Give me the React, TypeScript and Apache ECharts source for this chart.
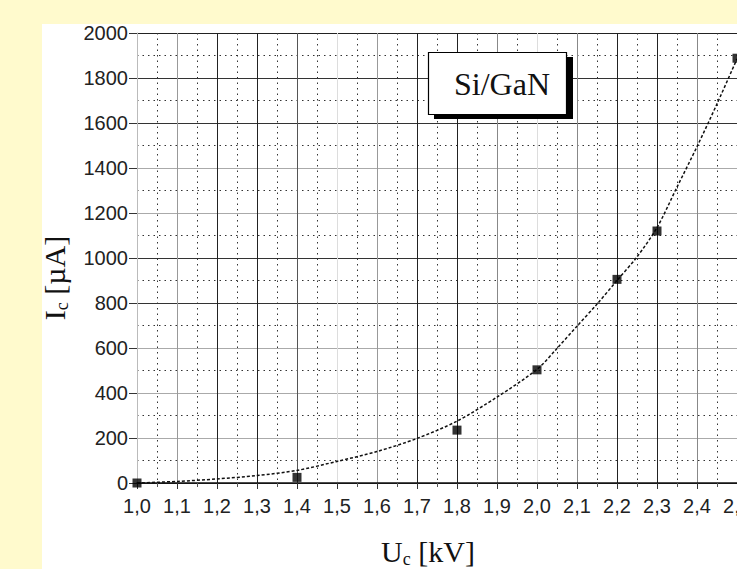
import React, { useEffect, useRef } from 'react';
import * as echarts from 'echarts';

// Tick labels
const xTickLabels = ['1,0', '1,1', '1,2', '1,3', '1,4', '1,5', '1,6', '1,7', '1,8', '1,9', '2,0', '2,1', '2,2', '2,3', '2,4', '2,5'];
const yTickLabels = ['0', '200', '400', '600', '800', '1000', '1200', '1400', '1600', '1800', '2000'];

// Measured points (U_c in kV, I_c in µA)
const measuredU = [1.0, 1.4, 1.8, 2.0, 2.2, 2.3, 2.5];
const measuredI = [0, 25, 235, 503, 905, 1120, 1888];

// Fitted curve
const fitU = [1.0, 1.1, 1.2, 1.3, 1.4, 1.5, 1.6, 1.7, 1.8, 1.9, 2.0, 2.05, 2.1, 2.15, 2.2, 2.25, 2.3, 2.35, 2.4, 2.45, 2.5];
const fitI = [0, 7, 18, 33, 56, 96, 140, 198, 275, 382, 505, 598, 697, 795, 900, 1005, 1135, 1315, 1495, 1685, 1885];

const serif = '"Liberation Serif", "Times New Roman", serif';
const sans = '"Liberation Sans", Arial, sans-serif';

export default function App() {
  const ref = useRef<HTMLDivElement>(null);

  useEffect(() => {
    if (!ref.current) return;
    const chart = echarts.init(ref.current, null, { renderer: 'svg' });

    const xSplitColors = ['#bbb', '#999', '#222', '#222', '#555', '#ddd', '#999', '#222', '#222', '#888', '#ddd', '#888', '#222', '#222', '#888', '#ccc'];
    const ySplitColors = ['#222', '#aaa', '#aaa', '#aaa', '#333', '#333', '#aaa', '#aaa', '#333', '#333', '#222'];

    chart.setOption({
      animation: false,
      backgroundColor: 'transparent',
      grid: {
        left: 137,
        right: 0,
        top: 33,
        bottom: 86,
        containLabel: false,
        outerBoundsMode: 'none',
      },
      xAxis: {
        type: 'value',
        min: 1.0,
        max: 2.5,
        interval: 0.1,
        axisLine: { show: true, onZero: false, lineStyle: { color: '#111', width: 1.5 } },
        axisTick: { show: true, length: 6, lineStyle: { color: '#333' } },
        minorTick: { show: true, splitNumber: 2, length: 4, lineStyle: { color: '#555' } },
        axisLabel: {
          margin: 13,
          fontSize: 20,
          color: '#222',
          fontFamily: sans,
          formatter: (v: number) => xTickLabels[Math.round((v - 1.0) * 10)] ?? '',
        },
        splitLine: { show: true, lineStyle: { color: xSplitColors, width: 1 } },
        minorSplitLine: { show: true, lineStyle: { color: '#333', width: 1, type: [1.5, 4] } },
      },
      yAxis: {
        type: 'value',
        min: 0,
        max: 2000,
        interval: 200,
        axisLine: { show: true, lineStyle: { color: '#bbb', width: 1 } },
        axisTick: { show: true, length: 8, lineStyle: { color: '#333' } },
        minorTick: { show: false, splitNumber: 2 },
        axisLabel: {
          margin: 9,
          fontSize: 20,
          color: '#222',
          fontFamily: sans,
          formatter: (v: number) => yTickLabels[Math.round(v / 200)] ?? '',
        },
        splitLine: { show: true, lineStyle: { color: ySplitColors, width: 1 } },
        minorSplitLine: { show: true, lineStyle: { color: '#333', width: 1, type: [1.5, 4] } },
      },
      series: [
        {
          type: 'line',
          data: fitU.map((u, i) => [u, fitI[i]]),
          smooth: 0.3,
          showSymbol: false,
          symbol: 'none',
          lineStyle: { color: '#111', width: 1.5, type: [3, 2] },
          z: 3,
        },
        {
          type: 'scatter',
          data: measuredU.map((u, i) => [u, measuredI[i]]),
          symbol: 'rect',
          symbolSize: 9,
          itemStyle: { color: '#000' },
          z: 4,
        },
      ],
      graphic: [
        {
          type: 'rect',
          shape: { x: 434, y: 57, width: 139, height: 62 },
          style: { fill: '#000' },
          z: 100,
        },
        {
          type: 'rect',
          shape: { x: 428.5, y: 52.5, width: 138, height: 62 },
          style: { fill: '#fff', stroke: '#000', lineWidth: 1.2 },
          z: 101,
        },
        {
          type: 'text',
          x: 502,
          y: 84,
          z: 102,
          style: {
            text: 'Si/GaN',
            fontSize: 32,
            fontFamily: serif,
            fill: '#111',
            align: 'center',
            verticalAlign: 'middle',
          },
        },
        {
          type: 'text',
          x: 428,
          y: 551,
          z: 102,
          style: {
            text: '{m|U}{s|c}{m| [kV]}',
            align: 'center',
            verticalAlign: 'middle',
            fill: '#111',
            rich: {
              m: { fontSize: 30, fontFamily: serif, fill: '#111' },
              s: { fontSize: 18, fontFamily: serif, fill: '#111', verticalAlign: 'bottom', padding: [0, 0, -2, 0] },
            },
          },
        },
        {
          type: 'text',
          x: 54,
          y: 278,
          rotation: Math.PI / 2,
          z: 102,
          style: {
            text: '{m|I}{s|c}{m| [µA]}',
            align: 'center',
            verticalAlign: 'middle',
            fill: '#111',
            rich: {
              m: { fontSize: 30, fontFamily: serif, fill: '#111' },
              s: { fontSize: 18, fontFamily: serif, fill: '#111', verticalAlign: 'bottom', padding: [0, 0, -2, 0] },
            },
          },
        },
      ],
    });

    return () => chart.dispose();
  }, []);

  return (
    <div style={{ position: 'fixed', left: 0, top: 0, width: 737, height: 569, background: '#FFFACD', overflow: 'hidden' }}>
      <div style={{ position: 'absolute', left: 42, top: 24, width: 695, height: 545, background: '#fff' }} />
      <div ref={ref} style={{ position: 'absolute', left: 0, top: 0, width: 737, height: 569 }} />
    </div>
  );
}
